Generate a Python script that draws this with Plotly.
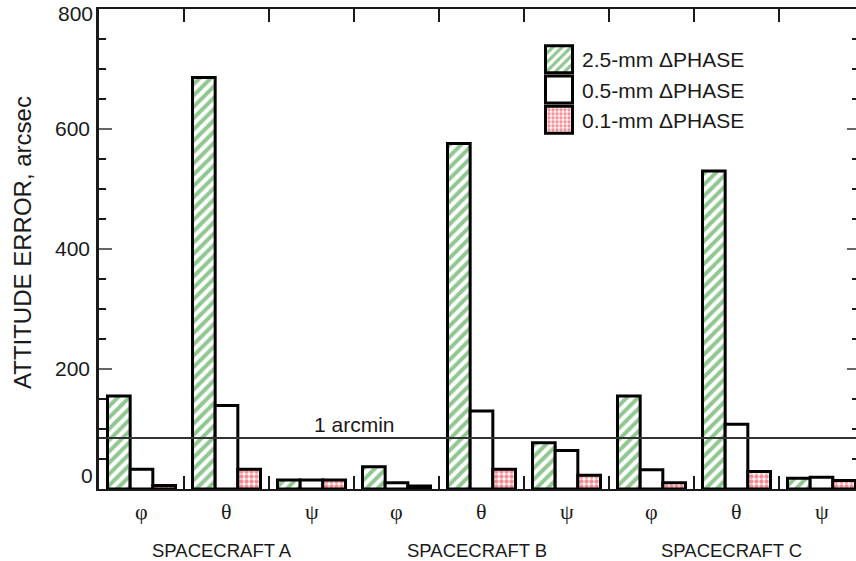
import plotly.graph_objects as go

# Attitude error (arcsec) per spacecraft and Euler angle
spacecraft = ["SPACECRAFT A", "SPACECRAFT B", "SPACECRAFT C"]
angles = ["\u03c6", "\u03b8", "\u03c8"]

err_25mm = [155, 686, 15, 37, 576, 77, 155, 530, 18]
err_05mm = [33, 139, 15, 10.5, 130, 64, 32, 108, 19.5]
err_01mm = [6, 33, 15, 5, 33, 23, 10.5, 29, 14]

series_names = ["2.5-mm \u0394PHASE", "0.5-mm \u0394PHASE", "0.1-mm \u0394PHASE"]

arcmin_level = 85          # reference line drawn across the plot
y_ticks = [0, 200, 400, 600, 800]

FONT = "Liberation Sans, Arial, sans-serif"
SERIF = "Liberation Serif, Times New Roman, serif"
INK = "#1a1a1a"

n_groups = len(spacecraft) * len(angles)
xs = list(range(n_groups))

fig = go.Figure()

fig.add_trace(go.Bar(
    x=xs, y=err_25mm, name=series_names[0], legendgroup="g1",
    marker=dict(color="white",
                line=dict(color="black", width=3),
                pattern=dict(shape="/", fgcolor="#229022", bgcolor="white",
                             size=8, solidity=0.5, fillmode="overlay")),
))
fig.add_trace(go.Bar(
    x=xs, y=err_05mm, name=series_names[1], legendgroup="g2",
    marker=dict(color="white", line=dict(color="black", width=3)),
))
fig.add_trace(go.Bar(
    x=xs, y=err_01mm, name=series_names[2], legendgroup="g3",
    marker=dict(color="white",
                line=dict(color="black", width=3),
                pattern=dict(shape=".", fgcolor="#e8202a", bgcolor="white",
                             size=5, solidity=0.6, fillmode="overlay")),
))

# hidden trace so the right-hand tick axis is drawn
fig.add_trace(go.Scatter(x=[None], y=[None], yaxis="y2", showlegend=False,
                         hoverinfo="skip"))

# 1-arcmin reference line
fig.add_shape(type="line", xref="x domain", yref="y", x0=0, x1=1,
              y0=arcmin_level, y1=arcmin_level,
              line=dict(color="#333333", width=2))
fig.add_annotation(x=2.5, y=arcmin_level, xref="x", yref="y",
                   text="1 arcmin", showarrow=False, yanchor="bottom", yshift=0,
                   font=dict(family=FONT, size=21, color=INK))

# angle labels under each group
for i in xs:
    fig.add_annotation(x=i, y=0, xref="x", yref="paper", yanchor="middle",
                       yshift=-22, text=angles[i % 3], showarrow=False,
                       font=dict(family=SERIF, size=22, color=INK))

# spacecraft labels centred under each triplet
for k, name in enumerate(spacecraft):
    fig.add_annotation(x=3 * k + 1, y=0, xref="x", yref="paper", yanchor="middle",
                       yshift=-61, xshift=-5, text=name, showarrow=False,
                       font=dict(family=FONT, size=18.5, color=INK))

# end labels of the y scale, nudged in from the corners
fig.add_annotation(x=0, y=0, xref="paper", yref="y", xanchor="right",
                   yanchor="middle", xshift=-4, yshift=14, text=str(y_ticks[0]),
                   showarrow=False, font=dict(family=FONT, size=21, color=INK))
fig.add_annotation(x=0, y=y_ticks[-1], xref="paper", yref="y", xanchor="right",
                   yanchor="middle", xshift=-4, yshift=-4, text=str(y_ticks[-1]),
                   showarrow=False, font=dict(family=FONT, size=21, color=INK))

# y-axis title
fig.add_annotation(x=0, y=0.5, xref="paper", yref="paper", xanchor="center",
                   yanchor="middle", xshift=-77, yshift=6,
                   text="ATTITUDE ERROR, arcsec", textangle=-90, showarrow=False,
                   font=dict(family=FONT, size=24, color=INK))

fig.update_layout(
    width=856, height=561,
    margin=dict(l=99, r=0, t=9, b=72),
    paper_bgcolor="white", plot_bgcolor="white",
    barmode="group", bargap=0.2, bargroupgap=0,
    font=dict(family=FONT, color=INK),
    showlegend=True,
    legend=dict(x=(536 - 99) / 757, y=1 - (39 - 9) / 480, xanchor="left",
                yanchor="top", bgcolor="rgba(0,0,0,0)", borderwidth=0,
                font=dict(family=FONT, size=21, color=INK),
                itemwidth=36, tracegroupgap=5, traceorder="normal"),
    xaxis=dict(range=[-0.5, -0.5 + 757 / 85], showgrid=False, zeroline=False,
               showline=True, linecolor=INK, linewidth=2, mirror="ticks",
               tickvals=[i + 0.5 for i in range(n_groups - 1)],
               ticks="inside", ticklen=13, tickwidth=1.5, tickcolor=INK,
               showticklabels=False),
    yaxis=dict(range=[0, 800], showgrid=False, zeroline=False,
               showline=True, linecolor=INK, linewidth=2.5,
               tickvals=y_ticks,
               ticktext=["" if v in (y_ticks[0], y_ticks[-1]) else str(v)
                         for v in y_ticks],
               ticks="inside", ticklen=13, tickwidth=2, tickcolor="#666666",
               ticklabelstandoff=2,
               tickfont=dict(family=FONT, size=21, color=INK),
               minor=dict(dtick=50, ticks="inside", ticklen=7, tickwidth=1.5,
                          tickcolor=INK)),
    yaxis2=dict(range=[0, 800], overlaying="y", side="right", showgrid=False,
                zeroline=False, showline=False, showticklabels=False,
                tickvals=y_ticks, ticks="inside", ticklen=9, tickwidth=2,
                tickcolor="#666666",
                minor=dict(dtick=50, ticks="inside", ticklen=4, tickwidth=1.5,
                           tickcolor=INK)),
)

# enlarge the legend swatches
grow_swatches = """
var gd = document.getElementById('{plot_id}');
function growSwatches() {
  gd.querySelectorAll('g.legend g.legendpoints path').forEach(function (p) {
    p.setAttribute('d', 'M13.5,13.5H-13.5V-13.5H13.5Z');
  });
}
growSwatches();
setTimeout(growSwatches, 50);
gd.on('plotly_afterplot', growSwatches);
"""

fig.write_html("out.html", post_script=grow_swatches)
